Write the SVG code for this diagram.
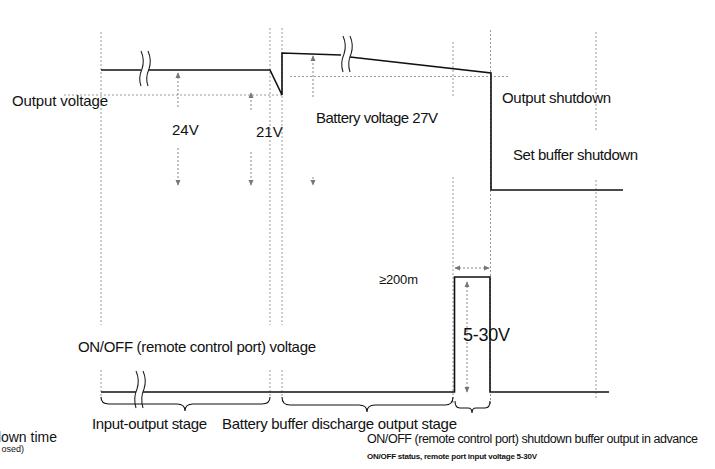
<svg xmlns="http://www.w3.org/2000/svg" width="715" height="469" viewBox="0 0 715 469">
<defs>
<marker id="ah" viewBox="0 0 8 8" refX="7" refY="4" markerWidth="6" markerHeight="6" orient="auto-start-reverse" markerUnits="userSpaceOnUse">
<path d="M0,0.5 L8,4 L0,7.5 Z" fill="#777"/>
</marker>
<style>
.t{font-family:"Liberation Sans",Arial,sans-serif;fill:#111;}
.a{font-family:"Liberation Sans",Arial,sans-serif;fill:#111;}
.g{stroke:#999;stroke-width:1;stroke-dasharray:2 2;fill:none;}
.ar{stroke:#888;stroke-width:1;stroke-dasharray:2 2;fill:none;}
.w{stroke:#111;stroke-width:1.6;fill:none;stroke-linejoin:miter;}
.b{stroke:#222;stroke-width:1.1;fill:none;}
.br{stroke:#111;stroke-width:1.1;fill:none;}
</style>
</defs>
<rect width="715" height="469" fill="#fff"/>

<g id="guides">
<line class="g" x1="101" y1="32" x2="101" y2="325"/>
<line class="g" x1="101" y1="370" x2="101" y2="397"/>
<line class="g" x1="270" y1="28" x2="270" y2="325"/>
<line class="g" x1="270" y1="370" x2="270" y2="397"/>
<line class="g" x1="282" y1="28" x2="282" y2="325"/>
<line class="g" x1="282" y1="370" x2="282" y2="397"/>
<line class="g" x1="453" y1="42" x2="453" y2="97"/>
<line class="g" x1="453" y1="177" x2="453" y2="404"/>
<line class="g" x1="490.5" y1="30" x2="490.5" y2="404"/>
<line class="g" x1="596" y1="32" x2="596" y2="132"/>
<line class="g" x1="596" y1="180" x2="596" y2="400"/>
<line class="g" x1="64" y1="95" x2="282" y2="95"/>
<line class="g" x1="290" y1="76.5" x2="510" y2="76.5"/>
</g>

<g id="output-waveform">
<polyline class="w" points="101,70 141,70"/>
<polyline class="w" points="148,70 270,70 282,95 282,53 341,55"/>
<polyline class="w" points="350,57 491,73 491,190 623,190"/>
<path class="b" d="M141,51 Q145,60 142,69 Q138,78 141,86"/>
<path class="b" d="M148,51 Q152,60 149,69 Q145,78 148,86"/>
<path class="b" d="M343,36 Q347,45 344,54 Q340,63 343,72"/>
<path class="b" d="M350,36 Q354,45 351,54 Q347,63 350,72"/>
</g>

<g id="onoff-waveform">
<polyline class="w" points="101,392 136,392"/>
<polyline class="w" points="143,392 454.5,392 454.5,277 490,277 490,392 609,392"/>
<path class="b" d="M136,371 Q140,380 137,389 Q133,398 136,408"/>
<path class="b" d="M143,371 Q147,380 144,389 Q140,398 143,408"/>
</g>

<g id="connectors">
<line class="ar" x1="178" y1="107" x2="178" y2="73" marker-end="url(#ah)"/>
<line class="ar" x1="178" y1="148" x2="178" y2="185" marker-end="url(#ah)"/>
<line class="ar" x1="251" y1="110" x2="251" y2="93" marker-end="url(#ah)"/>
<line class="ar" x1="251" y1="152" x2="251" y2="185" marker-end="url(#ah)"/>
<line class="ar" x1="313" y1="97" x2="313" y2="56" marker-end="url(#ah)"/>
<line class="ar" x1="313" y1="177" x2="313" y2="185" marker-end="url(#ah)"/>
<line class="ar" x1="455" y1="268" x2="489" y2="268" marker-start="url(#ah)" marker-end="url(#ah)"/>
<line class="ar" x1="467" y1="282" x2="467" y2="392" marker-start="url(#ah)" marker-end="url(#ah)"/>
</g>

<g id="braces">
<path class="br" d="M101,397 Q101,404 109,404 L177,404 Q185,404 185,411 Q185,404 193,404 L262,404 Q270,404 270,397"/>
<path class="br" d="M282,397 Q282,405 290,405 L359,405 Q367,405 367,412 Q367,405 375,405 L445,405 Q453,405 453,397"/>
<path class="br" d="M455,401 Q455,408 460,408 L468,408 Q472,408 472,413 Q472,408 476,408 L485,408 Q490,408 490,401"/>
</g>

<g id="labels">
<text class="t" x="12" y="106" font-size="15" textLength="96" lengthAdjust="spacing">Output voltage</text>
<text class="t" x="172" y="135" font-size="15">24V</text>
<text class="t" x="256" y="137" font-size="15">21V</text>
<text class="t" x="316" y="123" font-size="15" textLength="122" lengthAdjust="spacing">Battery voltage 27V</text>
<text class="t" x="502" y="103" font-size="15" textLength="109" lengthAdjust="spacing">Output shutdown</text>
<text class="t" x="513" y="160" font-size="15" textLength="125" lengthAdjust="spacing">Set buffer shutdown</text>
<text class="a" x="379" y="284" font-size="13" textLength="39" lengthAdjust="spacing">≥200m</text>
<text class="a" x="463" y="341" font-size="18" textLength="47" lengthAdjust="spacing">5-30V</text>
<text class="t" x="78" y="352" font-size="15" textLength="238" lengthAdjust="spacing">ON/OFF (remote control port) voltage</text>
<text class="t" x="92" y="429" font-size="15" textLength="115" lengthAdjust="spacing">Input-output stage</text>
<text class="t" x="222" y="429" font-size="15" textLength="235" lengthAdjust="spacing">Battery buffer discharge output stage</text>
<text class="t" x="57" y="442" font-size="14" text-anchor="end">down time</text>
<text class="t" x="24" y="452" font-size="9" text-anchor="end">osed)</text>
<text class="t" x="367" y="443" font-size="12.5" textLength="331" lengthAdjust="spacing">ON/OFF (remote control port) shutdown buffer output in advance</text>
<text class="t" x="367" y="459" font-size="8" font-weight="bold" textLength="170" lengthAdjust="spacing">ON/OFF status, remote port input voltage 5-30V</text>
</g>
</svg>
